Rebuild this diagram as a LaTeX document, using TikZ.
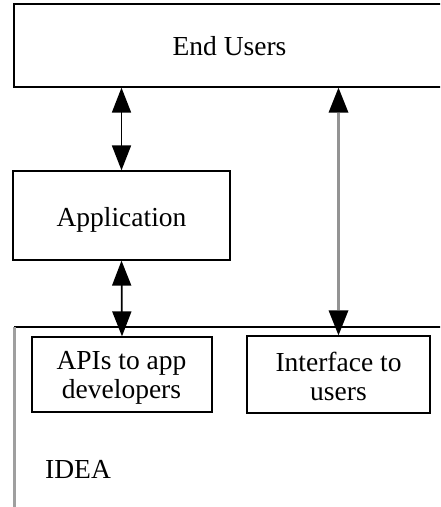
\documentclass[tikz,border=0pt]{standalone}
\usepackage{fontspec}
\setmainfont{Liberation Serif}
\usetikzlibrary{arrows.meta}
\begin{document}
\begin{tikzpicture}[x=1pt,y=-1pt,
  boxnode/.style={draw=black,line width=1.3pt,inner sep=0pt},
  txt/.style={inner sep=0pt,align=center,anchor=base,font=\fontsize{27.5}{25}\selectfont},
  blackline/.style={{Triangle[length=25pt,width=19pt]}-{Triangle[length=25pt,width=19pt]},line width=1.8pt,black},
  grayline/.style={{Triangle[length=25pt,width=20pt,color=black,line width=0pt]}-{Triangle[length=25pt,width=20pt,color=black,line width=0pt]},line width=2.8pt,draw=gray!85}]
\useasboundingbox (0,0) rectangle (440,507);
\begin{scope}
\clip (0,0) rectangle (440,507);
% IDEA container
\draw[line width=1.3pt,black] (14,327) -- (450,327);
\draw[line width=2.6pt,gray!75] (14.5,326.5) -- (14.5,515);
\node[txt,anchor=base west] (idea) at (45,478) {IDEA};
% End Users box
\node[boxnode,minimum width=432pt,minimum height=83pt] (eu) at (230,45.5) {};
\node[txt] (eut) at (229.5,55) {End Users};
\end{scope}
\node[boxnode,minimum width=217pt,minimum height=89pt] (app) at (121.5,215.5) {};
\node[txt] (appt) at (121.5,226) {Application};
\node[boxnode,minimum width=180pt,minimum height=75pt] (apis) at (122,374.5) {};
\node[txt] (apist) at (121.5,398) {APIs to app\\[4pt]developers};
\node[boxnode,minimum width=183pt,minimum height=77pt] (intf) at (338.5,374.5) {};
\node[txt] (intft) at (338.5,400) {Interface to\\[4pt]users};
% connectors
\draw[blackline] (app.north) -- (app.north |- eu.south);
\draw[blackline] (app.south) -- (apis.north);
\draw[grayline] (intf.north) -- (intf.north |- eu.south);
\end{tikzpicture}
\end{document}
